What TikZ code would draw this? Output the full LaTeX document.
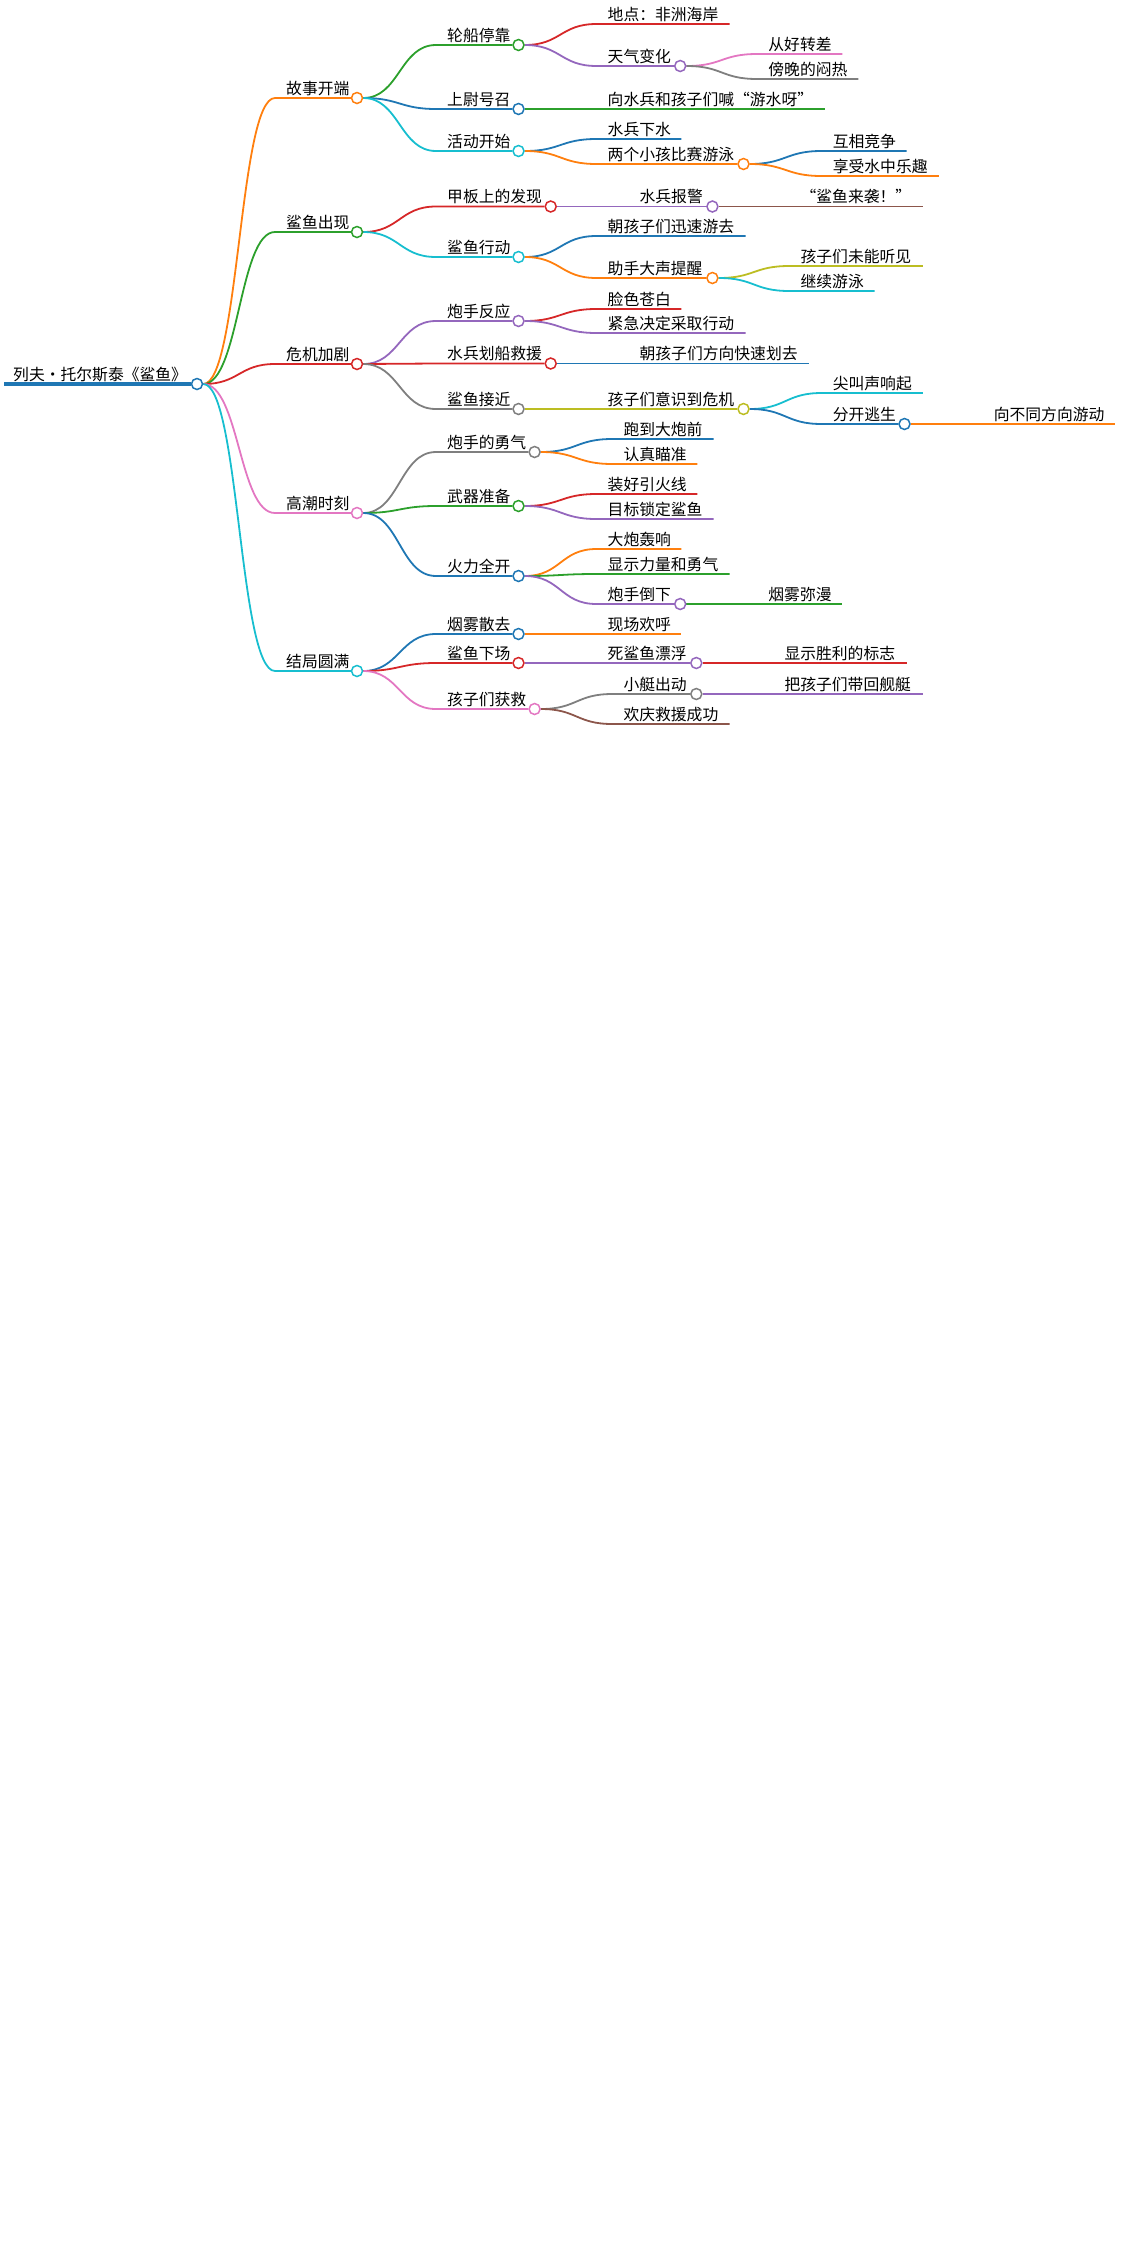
\documentclass[tikz,border=0pt]{standalone}
\usepackage{fontspec}
\newfontfamily\cjk{Noto Sans CJK SC}
\usetikzlibrary{calc,backgrounds}
\definecolor{tblue}{HTML}{1F77B4}
\definecolor{torange}{HTML}{FF7F0E}
\definecolor{tgreen}{HTML}{2CA02C}
\definecolor{tred}{HTML}{D62728}
\definecolor{tpurple}{HTML}{9467BD}
\definecolor{tbrown}{HTML}{8C564B}
\definecolor{tpink}{HTML}{E377C2}
\definecolor{tgray}{HTML}{7F7F7F}
\definecolor{tolive}{HTML}{BCBD22}
\definecolor{tcyan}{HTML}{17BECF}
\tikzset{
    knob/.style = {circle, draw = #1, fill = white, line width = 1.5pt, inner sep = 0pt, minimum size = 11pt},
    lbl/.style = {anchor = base west, inner sep = 0pt, font = \cjk\fontsize{15.8}{18}\selectfont},
    branch/.style = {draw = #1, line width = 1.8pt},
    swoop/.style = {out = 0, in = 180, distance = #1}
}
\begin{document}
\begin{tikzpicture}[x = 1pt, y = -1pt]
    \useasboundingbox (0,0) rectangle (1121,2265);
    \node[lbl] (t0) at (13,380) {列夫·托尔斯泰《鲨鱼》};
    \node[knob = tblue] (n0) at (197,384) {};
    \coordinate (s0) at (4,384);

    \node[lbl] (t1) at (286,94) {故事开端};
    \node[knob = torange] (n1) at (357,98) {};
    \node[lbl] (t11) at (447,41) {轮船停靠};
    \node[knob = tgreen] (n11) at (518.5,45) {};
    \node[lbl] (t111) at (607.5,20) {地点：非洲海岸};
    \coordinate (n111) at (729.6,24);
    \node[lbl] (t112) at (607.5,62) {天气变化};
    \node[knob = tpurple] (n112) at (680.2,66) {};
    \node[lbl] (t1121) at (768.2,50) {从好转差};
    \coordinate (n1121) at (842.3,54);
    \node[lbl] (t1122) at (768.2,75) {傍晚的闷热};
    \coordinate (n1122) at (858.4,79);
    \node[lbl] (t12) at (447,105) {上尉号召};
    \node[knob = tblue] (n12) at (518.5,109) {};
    \node[lbl] (t121) at (607.5,105) {向水兵和孩子们喊“游水呀”};
    \coordinate (n121) at (825.1,109);
    \node[lbl] (t13) at (447,147) {活动开始};
    \node[knob = tcyan] (n13) at (518.5,151) {};
    \node[lbl] (t131) at (607.5,135) {水兵下水};
    \coordinate (n131) at (681.3,139);
    \node[lbl] (t132) at (607.5,160) {两个小孩比赛游泳};
    \node[knob = torange] (n132) at (743.5,164) {};
    \node[lbl] (t1321) at (832.6,147) {互相竞争};
    \coordinate (n1321) at (906.7,151);
    \node[lbl] (t1322) at (832.6,172) {享受水中乐趣};
    \coordinate (n1322) at (938.9,176);

    \node[lbl] (t2) at (286,228) {鲨鱼出现};
    \node[knob = tgreen] (n2) at (357,232) {};
    \node[lbl] (t21) at (447,202.5) {甲板上的发现};
    \node[knob = tred] (n21) at (550.7,206.5) {};
    \node[lbl] (t211) at (639.4,202.5) {水兵报警};
    \node[knob = tpurple] (n211) at (712.4,206.5) {};
    \node[lbl] (t2111) at (800.4,202.5) {“鲨鱼来袭！”};
    \coordinate (n2111) at (922.8,206.5);
    \node[lbl] (t22) at (447,253) {鲨鱼行动};
    \node[knob = tcyan] (n22) at (518.5,257) {};
    \node[lbl] (t221) at (607.5,232) {朝孩子们迅速游去};
    \coordinate (n221) at (745.7,236);
    \node[lbl] (t222) at (607.5,274) {助手大声提醒};
    \node[knob = torange] (n222) at (712.4,278) {};
    \node[lbl] (t2221) at (800.4,262) {孩子们未能听见};
    \coordinate (n2221) at (922.8,266);
    \node[lbl] (t2222) at (800.4,287) {继续游泳};
    \coordinate (n2222) at (874.5,291);

    \node[lbl] (t3) at (286,360) {危机加剧};
    \node[knob = tred] (n3) at (357,364) {};
    \node[lbl] (t31) at (447,317) {炮手反应};
    \node[knob = tpurple] (n31) at (518.5,321) {};
    \node[lbl] (t311) at (607.5,305) {脸色苍白};
    \coordinate (n311) at (681.3,309);
    \node[lbl] (t312) at (607.5,329) {紧急决定采取行动};
    \coordinate (n312) at (745.7,333);
    \node[lbl] (t32) at (447,359.5) {水兵划船救援};
    \node[knob = tred] (n32) at (550.7,363.5) {};
    \node[lbl] (t321) at (639.4,359.5) {朝孩子们方向快速划去};
    \coordinate (n321) at (809,363.5);
    \node[lbl] (t33) at (447,405) {鲨鱼接近};
    \node[knob = tgray] (n33) at (518.5,409) {};
    \node[lbl] (t331) at (607.5,405) {孩子们意识到危机};
    \node[knob = tolive] (n331) at (743.5,409) {};
    \node[lbl] (t3311) at (832.6,389) {尖叫声响起};
    \coordinate (n3311) at (922.8,393);
    \node[lbl] (t3312) at (832.6,420) {分开逃生};
    \node[knob = tblue] (n3312) at (904.5,424) {};
    \node[lbl] (t33121) at (993.6,420) {向不同方向游动};
    \coordinate (n33121) at (1114.9,424);

    \node[lbl] (t4) at (286,509) {高潮时刻};
    \node[knob = tpink] (n4) at (357,513) {};
    \node[lbl] (t41) at (447,448) {炮手的勇气};
    \node[knob = tgray] (n41) at (534.6,452) {};
    \node[lbl] (t411) at (623.3,435) {跑到大炮前};
    \coordinate (n411) at (713.5,439);
    \node[lbl] (t412) at (623.3,460) {认真瞄准};
    \coordinate (n412) at (697.4,464);
    \node[lbl] (t42) at (447,502) {武器准备};
    \node[knob = tgreen] (n42) at (518.5,506) {};
    \node[lbl] (t421) at (607.5,490) {装好引火线};
    \coordinate (n421) at (697.4,494);
    \node[lbl] (t422) at (607.5,515) {目标锁定鲨鱼};
    \coordinate (n422) at (713.5,519);
    \node[lbl] (t43) at (447,572) {火力全开};
    \node[knob = tblue] (n43) at (518.5,576) {};
    \node[lbl] (t431) at (607.5,545) {大炮轰响};
    \coordinate (n431) at (681.3,549);
    \node[lbl] (t432) at (607.5,570) {显示力量和勇气};
    \coordinate (n432) at (729.6,574);
    \node[lbl] (t433) at (607.5,600) {炮手倒下};
    \node[knob = tpurple] (n433) at (680.2,604) {};
    \node[lbl] (t4331) at (768.2,600) {烟雾弥漫};
    \coordinate (n4331) at (842.3,604);

    \node[lbl] (t5) at (286,667) {结局圆满};
    \node[knob = tcyan] (n5) at (357,671) {};
    \node[lbl] (t51) at (447,630) {烟雾散去};
    \node[knob = tblue] (n51) at (518.5,634) {};
    \node[lbl] (t511) at (607.5,630) {现场欢呼};
    \coordinate (n511) at (681.3,634);
    \node[lbl] (t52) at (447,659) {鲨鱼下场};
    \node[knob = tred] (n52) at (518.5,663) {};
    \node[lbl] (t521) at (607.5,659) {死鲨鱼漂浮};
    \node[knob = tpurple] (n521) at (696.3,663) {};
    \node[lbl] (t5211) at (784.3,659) {显示胜利的标志};
    \coordinate (n5211) at (906.7,663);
    \node[lbl] (t53) at (447,705) {孩子们获救};
    \node[knob = tpink] (n53) at (534.6,709) {};
    \node[lbl] (t531) at (623.3,690) {小艇出动};
    \node[knob = tgray] (n531) at (696.3,694) {};
    \node[lbl] (t5311) at (784.3,690) {把孩子们带回舰艇};
    \coordinate (n5311) at (922.8,694);
    \node[lbl] (t532) at (623.3,720) {欢庆救援成功};
    \coordinate (n532) at (729.6,724);

    \begin{scope}[on background layer]
        \draw[branch = tblue, line width = 4pt] (s0) -- (n0);
        \draw[branch = torange] (n0) to[swoop = 36pt] ($(t1.base west)+(-11,4)$) -- (n1);
        \draw[branch = tgreen] (n0) to[swoop = 36pt] ($(t2.base west)+(-11,4)$) -- (n2);
        \draw[branch = tred] (n0) to[swoop = 36pt] ($(t3.base west)+(-11,4)$) -- (n3);
        \draw[branch = tpink] (n0) to[swoop = 36pt] ($(t4.base west)+(-11,4)$) -- (n4);
        \draw[branch = tcyan] (n0) to[swoop = 36pt] ($(t5.base west)+(-11,4)$) -- (n5);

        \draw[branch = tgreen] (n1) to[swoop = 36pt] ($(t11.base west)+(-11,4)$) -- (n11);
        \draw[branch = tblue] (n1) to[swoop = 36pt] ($(t12.base west)+(-11,4)$) -- (n12);
        \draw[branch = tcyan] (n1) to[swoop = 36pt] ($(t13.base west)+(-11,4)$) -- (n13);
        \draw[branch = tred] (n11) to[swoop = 36pt] ($(t111.base west)+(-11,4)$) -- (n111);
        \draw[branch = tpurple] (n11) to[swoop = 36pt] ($(t112.base west)+(-11,4)$) -- (n112);
        \draw[branch = tpink] (n112) to[swoop = 36pt] ($(t1121.base west)+(-11,4)$) -- (n1121);
        \draw[branch = tgray] (n112) to[swoop = 36pt] ($(t1122.base west)+(-11,4)$) -- (n1122);
        \draw[branch = tgreen] (n12) to[swoop = 36pt] ($(t121.base west)+(-11,4)$) -- (n121);
        \draw[branch = tblue] (n13) to[swoop = 36pt] ($(t131.base west)+(-11,4)$) -- (n131);
        \draw[branch = torange] (n13) to[swoop = 36pt] ($(t132.base west)+(-11,4)$) -- (n132);
        \draw[branch = tblue] (n132) to[swoop = 36pt] ($(t1321.base west)+(-11,4)$) -- (n1321);
        \draw[branch = torange] (n132) to[swoop = 36pt] ($(t1322.base west)+(-11,4)$) -- (n1322);

        \draw[branch = tred] (n2) to[swoop = 36pt] ($(t21.base west)+(-11,4)$) -- (n21);
        \draw[branch = tcyan] (n2) to[swoop = 36pt] ($(t22.base west)+(-11,4)$) -- (n22);
        \draw[branch = tpurple] (n21) to[swoop = 36pt] ($(t211.base west)+(-11,4)$) -- (n211);
        \draw[branch = tbrown] (n211) to[swoop = 36pt] ($(t2111.base west)+(-11,4)$) -- (n2111);
        \draw[branch = tblue] (n22) to[swoop = 36pt] ($(t221.base west)+(-11,4)$) -- (n221);
        \draw[branch = torange] (n22) to[swoop = 36pt] ($(t222.base west)+(-11,4)$) -- (n222);
        \draw[branch = tolive] (n222) to[swoop = 36pt] ($(t2221.base west)+(-11,4)$) -- (n2221);
        \draw[branch = tcyan] (n222) to[swoop = 36pt] ($(t2222.base west)+(-11,4)$) -- (n2222);

        \draw[branch = tpurple] (n3) to[swoop = 36pt] ($(t31.base west)+(-11,4)$) -- (n31);
        \draw[branch = tred] (n3) to[swoop = 36pt] ($(t32.base west)+(-11,4)$) -- (n32);
        \draw[branch = tgray] (n3) to[swoop = 36pt] ($(t33.base west)+(-11,4)$) -- (n33);
        \draw[branch = tred] (n31) to[swoop = 36pt] ($(t311.base west)+(-11,4)$) -- (n311);
        \draw[branch = tpurple] (n31) to[swoop = 36pt] ($(t312.base west)+(-11,4)$) -- (n312);
        \draw[branch = tblue] (n32) to[swoop = 36pt] ($(t321.base west)+(-11,4)$) -- (n321);
        \draw[branch = tolive] (n33) to[swoop = 36pt] ($(t331.base west)+(-11,4)$) -- (n331);
        \draw[branch = tcyan] (n331) to[swoop = 36pt] ($(t3311.base west)+(-11,4)$) -- (n3311);
        \draw[branch = tblue] (n331) to[swoop = 36pt] ($(t3312.base west)+(-11,4)$) -- (n3312);
        \draw[branch = torange] (n3312) to[swoop = 36pt] ($(t33121.base west)+(-11,4)$) -- (n33121);

        \draw[branch = tgray] (n4) to[swoop = 36pt] ($(t41.base west)+(-11,4)$) -- (n41);
        \draw[branch = tgreen] (n4) to[swoop = 36pt] ($(t42.base west)+(-11,4)$) -- (n42);
        \draw[branch = tblue] (n4) to[swoop = 36pt] ($(t43.base west)+(-11,4)$) -- (n43);
        \draw[branch = tblue] (n41) to[swoop = 36pt] ($(t411.base west)+(-11,4)$) -- (n411);
        \draw[branch = torange] (n41) to[swoop = 36pt] ($(t412.base west)+(-11,4)$) -- (n412);
        \draw[branch = tred] (n42) to[swoop = 36pt] ($(t421.base west)+(-11,4)$) -- (n421);
        \draw[branch = tpurple] (n42) to[swoop = 36pt] ($(t422.base west)+(-11,4)$) -- (n422);
        \draw[branch = torange] (n43) to[swoop = 36pt] ($(t431.base west)+(-11,4)$) -- (n431);
        \draw[branch = tgreen] (n43) to[swoop = 36pt] ($(t432.base west)+(-11,4)$) -- (n432);
        \draw[branch = tpurple] (n43) to[swoop = 36pt] ($(t433.base west)+(-11,4)$) -- (n433);
        \draw[branch = tgreen] (n433) to[swoop = 36pt] ($(t4331.base west)+(-11,4)$) -- (n4331);

        \draw[branch = tblue] (n5) to[swoop = 36pt] ($(t51.base west)+(-11,4)$) -- (n51);
        \draw[branch = tred] (n5) to[swoop = 36pt] ($(t52.base west)+(-11,4)$) -- (n52);
        \draw[branch = tpink] (n5) to[swoop = 36pt] ($(t53.base west)+(-11,4)$) -- (n53);
        \draw[branch = torange] (n51) to[swoop = 36pt] ($(t511.base west)+(-11,4)$) -- (n511);
        \draw[branch = tpurple] (n52) to[swoop = 36pt] ($(t521.base west)+(-11,4)$) -- (n521);
        \draw[branch = tred] (n521) to[swoop = 36pt] ($(t5211.base west)+(-11,4)$) -- (n5211);
        \draw[branch = tgray] (n53) to[swoop = 36pt] ($(t531.base west)+(-11,4)$) -- (n531);
        \draw[branch = tpurple] (n531) to[swoop = 36pt] ($(t5311.base west)+(-11,4)$) -- (n5311);
        \draw[branch = tbrown] (n53) to[swoop = 36pt] ($(t532.base west)+(-11,4)$) -- (n532);
    \end{scope}
\end{tikzpicture}
\end{document}
